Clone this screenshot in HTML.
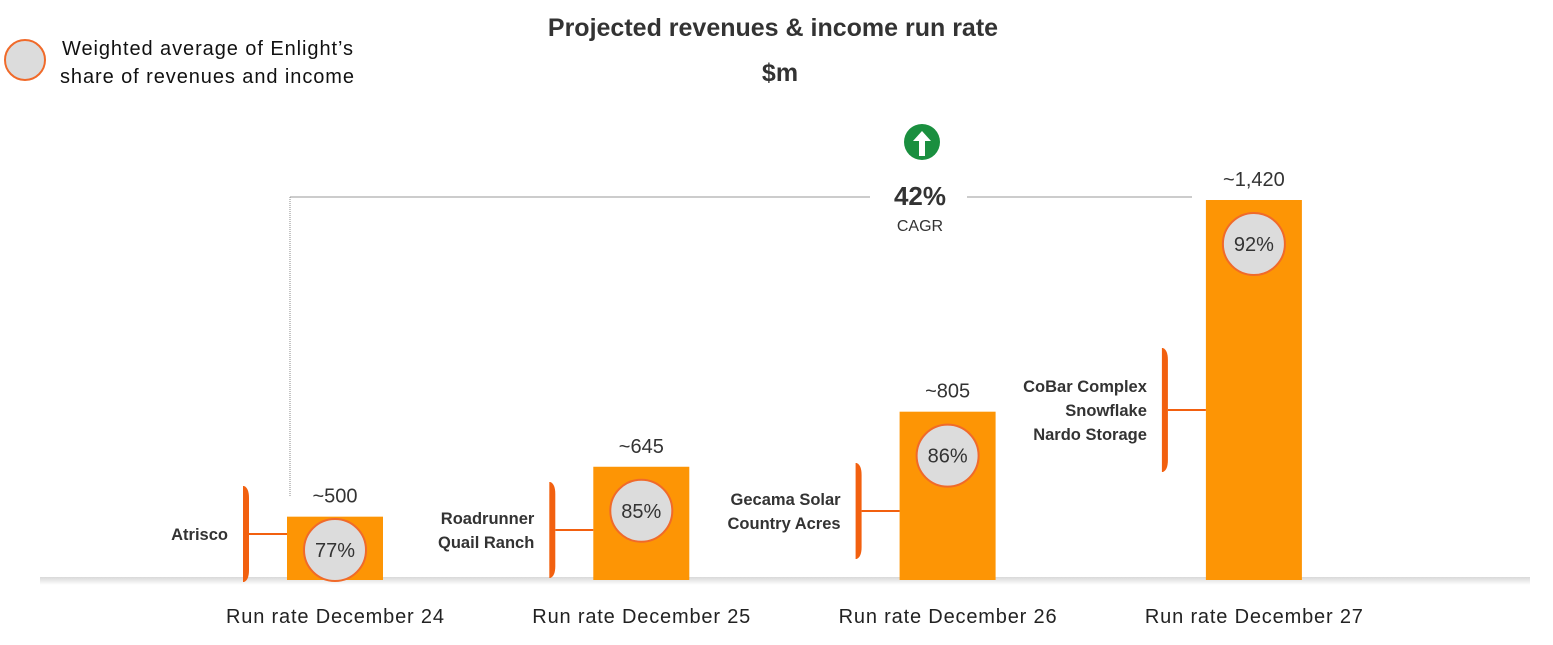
<!DOCTYPE html>
<html><head><meta charset="utf-8"><style>
body{margin:0;background:#fff;font-family:"Liberation Sans",sans-serif}
svg text{font-family:"Liberation Sans",sans-serif}
</style></head><body>
<svg id="c" width="1553" height="640" xmlns="http://www.w3.org/2000/svg">
<defs><linearGradient id="sh" x1="0" y1="0" x2="0" y2="1"><stop offset="0" stop-color="#d8d8d8"/><stop offset="1" stop-color="#fff"/></linearGradient></defs>
<text x="773" y="36" text-anchor="middle" font-size="25" font-weight="bold" fill="#333">Projected revenues &amp; income run rate</text>
<text x="780" y="81" text-anchor="middle" font-size="25" font-weight="bold" fill="#333">$m</text>
<g>
<circle cx="25" cy="60" r="20" fill="#dcdcdc" stroke="#f06a2a" stroke-width="2"/>
<text x="62" y="55" font-size="20" fill="#111" textLength="291">Weighted average of Enlight’s</text>
<text x="60" y="83" font-size="20" fill="#111" textLength="294">share of revenues and income</text>
</g>
<rect x="40" y="577" width="1490" height="8" fill="url(#sh)"/>
<g>
<line x1="290" y1="197" x2="290" y2="497" stroke="#888" stroke-width="1" stroke-dasharray="1,1"/>
<line x1="290" y1="197" x2="870" y2="197" stroke="#999" stroke-width="1"/>
<line x1="967" y1="197" x2="1192" y2="197" stroke="#999" stroke-width="1"/>
<circle cx="922" cy="142" r="18" fill="#1a8f3f"/>
<path d="M922 131 L931 141 L925 141 L925 156 L919 156 L919 141 L913 141 Z" fill="#fff"/>
<text x="920" y="205" text-anchor="middle" font-size="26" font-weight="bold" fill="#333">42%</text>
<text x="920" y="231" text-anchor="middle" font-size="16" fill="#333">CAGR</text>
</g>
<g id="bars"></g>
</svg>
<script>
const categories=["Run rate December 24","Run rate December 25","Run rate December 26","Run rate December 27"];
const values=[500,645,805,1420];
const valueLabels=["~500","~645","~805","~1,420"];
const shares=["77%","85%","86%","92%"];
const projects=[["Atrisco"],["Roadrunner","Quail Ranch"],["Gecama Solar","Country Acres"],["CoBar Complex","Snowflake","Nardo Storage"]];
const NS="http://www.w3.org/2000/svg";
const base=580, x0=335, step=306.3, bw=96;
const bracketMid=[534,530,511,410];
function y(v){return base-((v-316)/(1420-316))*380;}
function xc(i){return x0+i*step;}
const g=document.getElementById('bars');
function mk(t,a,p){const e=document.createElementNS(NS,t);for(const k in a)e.setAttribute(k,a[k]);(p||g).appendChild(e);return e;}
categories.forEach((c,i)=>{
 const cx=xc(i),top=y(values[i]);
 const grp=mk('g',{});
 
 
 const r=mk('rect',{x:cx-bw/2,y:top,width:bw,height:base-top,fill:'#fd9505'},grp);
 
 
 const vl=mk('text',{x:cx,y:top-14,'text-anchor':'middle','font-size':20,fill:'#333'},grp);vl.textContent=valueLabels[i];
 
 
 const cy=Math.min(top+44,base-30);
 const ci=mk('circle',{cx:cx,cy:cy,r:31,fill:'#dcdcdc',stroke:'#f06a2a','stroke-width':2},grp);
 
 
 const st=mk('text',{x:cx,y:cy+7,'text-anchor':'middle','font-size':20,fill:'#333'},grp);st.textContent=shares[i];
 
 
 const cat=mk('text',{x:cx,y:623,'text-anchor':'middle','font-size':20,fill:'#222',textLength:218},grp);cat.textContent=c;
 
 
 const n=projects[i].length, bh=n===3?124:96;
 const mid=bracketMid[i];
 const bx=cx-bw/2-44, b0=mid-bh/2;
 const br=mk('path',{d:`M${bx} ${b0} L${bx+1} ${b0} Q${bx+6} ${b0+2} ${bx+6} ${b0+12} L${bx+6} ${b0+bh-12} Q${bx+6} ${b0+bh-2} ${bx+1} ${b0+bh} L${bx} ${b0+bh} Z`,fill:'#f2600f'},grp);
 
 
 mk('line',{x1:bx+6,y1:mid,x2:cx-bw/2,y2:mid,stroke:'#f2600f','stroke-width':2},grp);
 projects[i].forEach((p,k)=>{
  const t=mk('text',{x:bx-15,y:mid+6+(k-(n-1)/2)*24,'text-anchor':'end','font-size':16.5,'font-weight':'bold',fill:'#333'},grp);t.textContent=p;
  
  
 });
});
</script>
</body></html>
